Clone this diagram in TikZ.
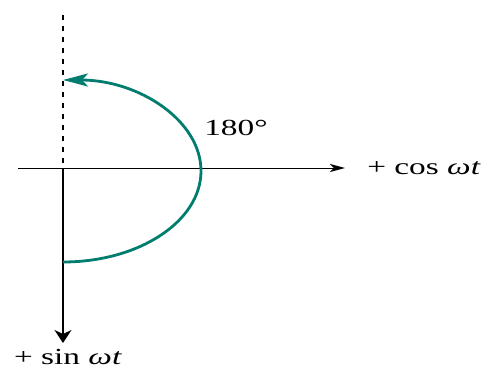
\documentclass[tikz,border=0pt]{standalone}
\usepackage{fontspec}
\setmainfont{Liberation Serif}
\usetikzlibrary{arrows.meta}
\definecolor{arcteal}{RGB}{0,125,110}
\newcommand\widetxt[1]{\scalebox{1.45}[1]{#1}}
\tikzset{
  haxis/.style={line width=1pt,-{Stealth[length=15pt,width=8pt,inset=4pt]}},
  vaxis/.style={line width=1.4pt,-{Stealth[length=13pt,width=17pt,inset=4pt]}},
  lbl/.style={font=\fontsize{23}{27}\selectfont, inner sep=0pt},
  arcline/.style={arcteal,line width=2.8pt,-{Stealth[length=25pt,width=13pt,inset=6pt]}}
}
\begin{document}
\begin{tikzpicture}[x=1pt,y=-1pt]
\useasboundingbox (0,0) rectangle (493,369);
\coordinate (O) at (63,168);
\coordinate (L) at (18,168);
\coordinate (R) at (345,168);
\coordinate (T) at (63,15);
\coordinate (B) at (63,343);
\coordinate (S) at (63,262);
\draw[haxis] (L) -- (R);
\draw[vaxis] (O) -- (B);
\draw[line width=1.6pt,dash pattern=on 5pt off 6pt] (T) -- (O);
\draw[arcline] (S) arc[start angle=90,end angle=-90,x radius=138,y radius=91];
\node[lbl] (cos) at (424,168) {\widetxt{+ cos \textit{ωt}}};
\node[lbl] (sin) at (68,357) {\widetxt{+ sin \textit{ωt}}};
\node[lbl] (ang) at (236,128) {\widetxt{180°}};
\end{tikzpicture}
\end{document}
